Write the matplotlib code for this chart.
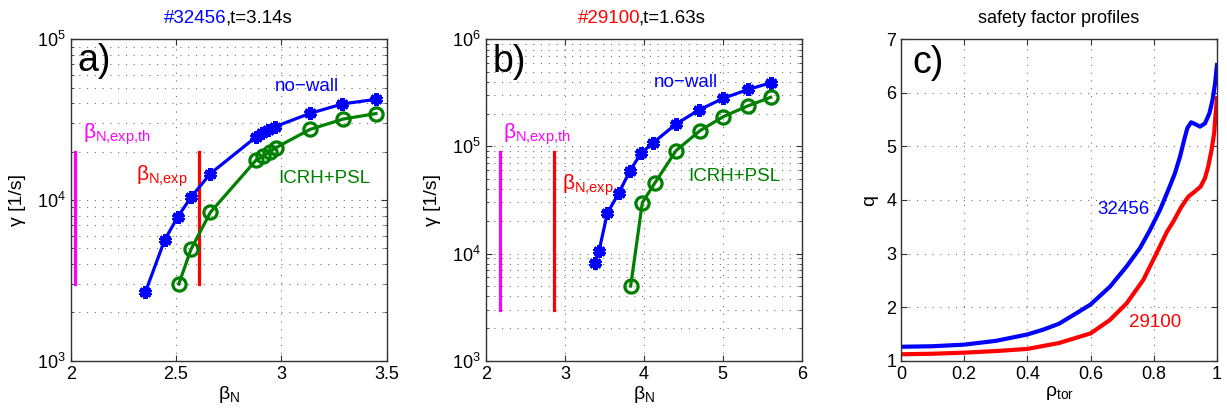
import numpy as np
import matplotlib
matplotlib.use('Agg')
import matplotlib.pyplot as plt
from matplotlib.transforms import offset_copy

plt.rcParams['font.family'] = ['Liberation Sans', 'DejaVu Sans']
plt.rcParams['mathtext.default'] = 'regular'

# panel a: #32456
bn_a_nowall = [2.354, 2.446, 2.509, 2.571, 2.663, 2.880, 2.907, 2.938, 2.970, 3.136, 3.290, 3.448]
g_a_nowall = [2660, 5640, 7880, 10400, 14600, 24700, 26000, 27300, 28600, 34600, 39600, 42300]
bn_a_icrh = [2.513, 2.571, 2.663, 2.880, 2.915, 2.946, 2.975, 3.136, 3.294, 3.449]
g_a_icrh = [3000, 4930, 8380, 17700, 18800, 20000, 21200, 27500, 31900, 34500]
bn_a_th, bn_a_exp = 2.021, 2.609
line_a = [3000, 20000]

# panel b: #29100
bn_b_nowall = [3.381, 3.432, 3.537, 3.685, 3.825, 3.964, 4.120, 4.408, 4.699, 5.007, 5.324, 5.616]
g_b_nowall = [8220, 10560, 23800, 37000, 59400, 86300, 108500, 162000, 219000, 281500, 341000, 394000]
bn_b_icrh = [3.833, 3.981, 4.137, 4.408, 4.712, 5.007, 5.316, 5.607]
g_b_icrh = [4980, 29900, 45300, 91400, 140500, 189700, 238700, 287600]
bn_b_th, bn_b_exp = 2.177, 2.862
line_b = [3000, 89000]

# panel c: safety factor profiles
rho_32456 = [0, 0.1, 0.2, 0.3, 0.4, 0.45, 0.5, 0.556, 0.6, 0.661, 0.714, 0.756, 0.788, 0.82,
             0.846, 0.867, 0.883, 0.896, 0.906, 0.918, 0.93, 0.946, 0.962, 0.976, 0.986, 0.994, 1.0]
q_32456 = [1.26, 1.27, 1.30, 1.37, 1.49, 1.58, 1.69, 1.89, 2.05, 2.38, 2.76, 3.10, 3.44, 3.82,
           4.19, 4.50, 4.81, 5.12, 5.34, 5.45, 5.42, 5.37, 5.43, 5.62, 5.87, 6.18, 6.52]
rho_29100 = [0, 0.1, 0.2, 0.3, 0.4, 0.5, 0.6, 0.661, 0.714, 0.767, 0.809, 0.841, 0.862, 0.888,
             0.909, 0.93, 0.948, 0.962, 0.972, 0.983, 0.991, 0.995, 1.0]
q_29100 = [1.12, 1.13, 1.15, 1.18, 1.22, 1.33, 1.51, 1.76, 2.07, 2.51, 3.01, 3.40, 3.60, 3.88,
           4.06, 4.16, 4.25, 4.41, 4.62, 4.94, 5.25, 5.56, 5.90]

BLUE = (0, 0, 1)
GREEN = (0, 0.5, 0)
MAG = (1, 0, 1)
RED = (1, 0, 0)

fig = plt.figure(figsize=(12.27, 4.17), dpi=100)
W, H = 1227, 417
bottom = (H - 360.7) / H
height = 321.4 / H
ax_a = fig.add_axes([70.7 / W, bottom, 316 / W, height])
ax_b = fig.add_axes([486 / W, bottom, 315.7 / W, height])
ax_c = fig.add_axes([901 / W, bottom, 316 / W, height])

GRID = dict(linestyle=(0, (1, 6)), color='0.45', linewidth=0.8)


def style(ax, logy=True):
    for s in ax.spines.values():
        s.set_color('0.2')
        s.set_linewidth(1.0)
    ax.tick_params(which='both', direction='in', top=True, right=True,
                   labelsize=13, colors='0.2', labelcolor='black')
    ax.tick_params(which='major', length=4)
    ax.tick_params(which='minor', length=2.5)
    ax.grid(True, which='major', **GRID)
    if logy:
        ax.grid(True, which='minor', axis='y', **GRID)


def beta_panel(ax, bn_nw, g_nw, bn_ic, g_ic, x_th, x_exp, vline, xlim, ylim, xticks,
               letter, letter_pos, th_pos, exp_pos, nw_pos, ic_pos):
    ax.set_yscale('log')
    ax.plot([x_th, x_th], vline, color=MAG, lw=2.3)
    ax.plot([x_exp, x_exp], vline, color=RED, lw=2.3)
    ax.plot(bn_nw, g_nw, color=BLUE, lw=2.3, marker=(6, 2, 0), ms=9, mew=3.2)
    ax.plot(bn_ic, g_ic, color=GREEN, lw=2.3, marker='o', ms=9.5, mfc='none', mew=2.3)
    ax.set_xlim(*xlim)
    ax.set_ylim(*ylim)
    ax.set_xticks(xticks)
    ax.set_xticklabels([f'{t:g}' for t in xticks])
    style(ax)
    ax.set_xlabel('β$_N$', fontsize=14, labelpad=1)
    ax.set_ylabel('γ [1/s]', fontsize=14, labelpad=8)
    ax.text(*letter_pos, letter, fontsize=27, va='center', ha='left')
    ax.text(*th_pos, 'β$_{N{,}exp{,}th}$', color=MAG, fontsize=15, va='center', ha='left')
    ax.text(*exp_pos, 'β$_{N{,}exp}$', color=RED, fontsize=15, va='center', ha='left')
    ax.text(*nw_pos, 'no\u2212wall', color=BLUE, fontsize=13.5, va='center', ha='left')
    ax.text(*ic_pos, 'ICRH+PSL', color=GREEN, fontsize=13.5, va='center', ha='left')


beta_panel(ax_a, bn_a_nowall, g_a_nowall, bn_a_icrh, g_a_icrh, bn_a_th, bn_a_exp, line_a,
           (2, 3.5), (1e3, 1e5), [2, 2.5, 3, 3.5], 'a)', (2.03, 7.3e4),
           (2.06, 2.55e4), (2.31, 1.4e4), (2.97, 5.1e4), (2.986, 1.36e4))
beta_panel(ax_b, bn_b_nowall, g_b_nowall, bn_b_icrh, g_b_icrh, bn_b_th, bn_b_exp, line_b,
           (2, 6), (1e3, 1e6), [2, 3, 4, 5, 6], 'b)', (2.08, 6.2e5),
           (2.21, 1.3e5), (2.96, 4.3e4), (4.12, 3.94e5), (4.56, 5.2e4))

# two-colour titles
for ax, shot, rest, split, col in [(ax_a, '#32456', ',t=3.14s', 0.494, BLUE),
                                   (ax_b, '#29100', ',t=1.63s', 0.488, RED)]:
    ax.text(split, 1.066, shot, color=col, fontsize=13.5, ha='right', va='center', transform=ax.transAxes)
    tr = offset_copy(ax.transAxes, fig=fig, x=-2, y=0, units='dots')
    ax.text(split, 1.066, rest, color='black', fontsize=13.5, ha='left', va='center', transform=tr)

# panel c
ax_c.plot(rho_32456, q_32456, color=BLUE, lw=3, solid_joinstyle='round')
ax_c.plot(rho_29100, q_29100, color=RED, lw=3, solid_joinstyle='round')
ax_c.set_xlim(0, 1)
ax_c.set_ylim(1, 7)
ax_c.set_xticks([0, 0.2, 0.4, 0.6, 0.8, 1])
ax_c.set_xticklabels(['0', '0.2', '0.4', '0.6', '0.8', '1'])
ax_c.set_yticks([1, 2, 3, 4, 5, 6, 7])
style(ax_c, logy=False)
ax_c.set_xlabel('ρ$_{tor}$', fontsize=14, labelpad=1)
ax_c.set_ylabel('q', fontsize=14, labelpad=6)
ax_c.text(0.035, 6.55, 'c)', fontsize=27, va='center', ha='left')
ax_c.text(0.62, 3.82, '32456', color=BLUE, fontsize=13.5, va='center', ha='left')
ax_c.text(0.722, 1.71, '29100', color=RED, fontsize=13.5, va='center', ha='left')
ax_c.text(0.5, 1.066, 'safety factor profiles', fontsize=13, ha='center', va='center',
          transform=ax_c.transAxes)

fig.savefig('out.png', dpi=100)
